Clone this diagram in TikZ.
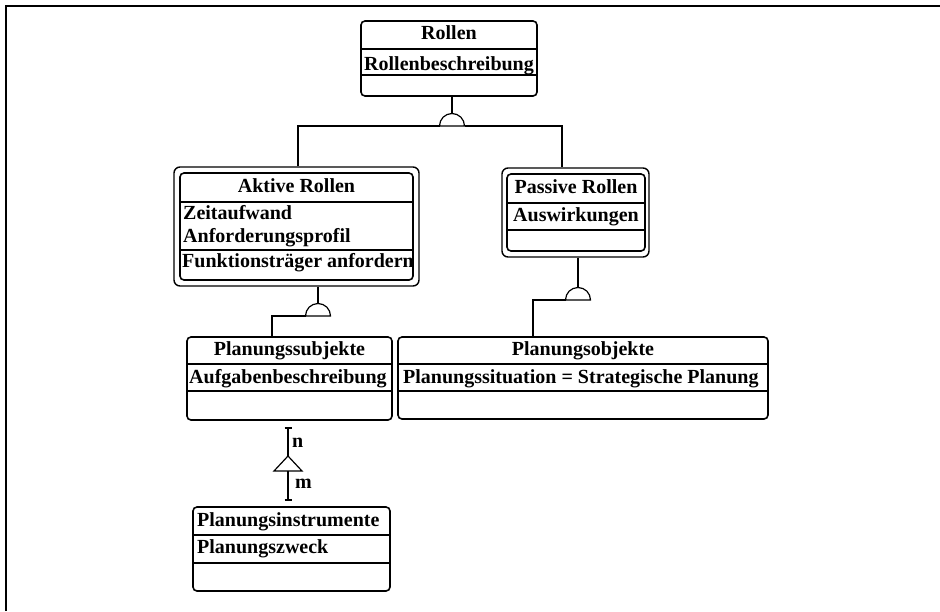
\documentclass[tikz,border=0pt]{standalone}
\usepackage{fontspec}
\setmainfont{Liberation Serif}
\usetikzlibrary{positioning}

\begin{document}
\begin{tikzpicture}[x=1pt, y=-1pt,
        cls/.style={draw=black, rounded corners=4pt, line width=1.6pt, inner sep=0pt},
        frame/.style={draw=black, rounded corners=6pt, line width=1.4pt, inner sep=0pt},
        hdr/.style={anchor=base, inner sep=0pt, font=\fontsize{20}{22}\selectfont\bfseries},
        attr/.style={hdr, anchor=base west},
        sep/.style={line width=1.1pt},
        link/.style={line width=1.2pt},
    ]
    \useasboundingbox (0,0) rectangle (940,611);
    % Rahmen (oben und links)
    \draw[line width=1.5pt] (6,611) -- (6,6) -- (940,6);

    % Rollen
    \node[cls, minimum width=176, minimum height=75] (rollen) at (449,58.5) {};
    \draw[sep] (rollen.west |- 0,49) -- (rollen.east |- 0,49);
    \draw[sep] (rollen.west |- 0,75) -- (rollen.east |- 0,75);
    \node[hdr] (rollenT) at (449,39.5) {Rollen};
    \node[attr] (rollenA) at (364,70) {Rollenbeschreibung};

    % Aktive Rollen (doppelter Rahmen)
    \node[frame, minimum width=245, minimum height=119] (aktiveO) at (296.5,226.5) {};
    \node[cls, minimum width=233, minimum height=107] (aktive) at (296.5,226.5) {};
    \draw[sep] (aktive.west |- 0,202) -- (aktive.east |- 0,202);
    \draw[sep] (aktive.west |- 0,250) -- (aktive.east |- 0,250);
    \node[hdr] (aktiveT) at (296.5,192) {Aktive Rollen};
    \node[attr] (aktiveA1) at (183,219) {Zeitaufwand};
    \node[attr] (aktiveA2) at (183,242) {Anforderungsprofil};
    \node[attr] (aktiveM) at (182,267) {Funktionsträger anfordern};

    % Passive Rollen (doppelter Rahmen)
    \node[frame, minimum width=147, minimum height=89] (passiveO) at (575.5,212.5) {};
    \node[cls, minimum width=138, minimum height=77] (passive) at (576,212.5) {};
    \draw[sep] (passive.west |- 0,203) -- (passive.east |- 0,203);
    \draw[sep] (passive.west |- 0,230) -- (passive.east |- 0,230);
    \node[hdr] (passiveT) at (576,193) {Passive Rollen};
    \node[hdr] (passiveA) at (576,221) {Auswirkungen};

    % Planungssubjekte
    \node[cls, minimum width=205, minimum height=83] (subj) at (289.5,378.5) {};
    \draw[sep] (subj.west |- 0,364) -- (subj.east |- 0,364);
    \draw[sep] (subj.west |- 0,391) -- (subj.east |- 0,391);
    \node[hdr] (subjT) at (289.5,355) {Planungssubjekte};
    \node[attr] (subjA) at (189,383) {Aufgabenbeschreibung};

    % Planungsobjekte
    \node[cls, minimum width=370, minimum height=82] (obj) at (583,378) {};
    \draw[sep] (obj.west |- 0,364) -- (obj.east |- 0,364);
    \draw[sep] (obj.west |- 0,391) -- (obj.east |- 0,391);
    \node[hdr] (objT) at (583,355) {Planungsobjekte};
    \node[attr] (objA) at (403,383) {Planungssituation = Strategische Planung};

    % Planungsinstrumente
    \node[cls, minimum width=197, minimum height=84] (instr) at (291.5,549) {};
    \draw[sep] (instr.west |- 0,535) -- (instr.east |- 0,535);
    \draw[sep] (instr.west |- 0,563) -- (instr.east |- 0,563);
    \node[attr] (instrT) at (197,526) {Planungsinstrumente};
    \node[attr] (instrA) at (197,553) {Planungszweck};

    % Generalisierung Rollen
    \coordinate (g1) at (452,126);
    \coordinate (g1t) at (452,113.5);
    \coordinate (j1l) at (298,126);
    \coordinate (j1r) at (562,126);
    \draw[link] (rollen.south -| g1) -- (g1t);
    \draw[link, fill=white] ([xshift=-12.5pt]g1) arc[start angle=180, end angle=360, radius=12.5] -- cycle;
    \draw[link] (aktiveO.north -| j1l) -- (j1l) -- ([xshift=-12.5pt]g1);
    \draw[link] ([xshift=12.5pt]g1) -- (j1r) -- (passiveO.north -| j1r);

    % Aktive Rollen -> Planungssubjekte
    \coordinate (g2) at (318,316);
    \coordinate (g2t) at (318,303.5);
    \coordinate (j2) at (272,316);
    \draw[link] (aktiveO.south -| g2) -- (g2t);
    \draw[link, fill=white] ([xshift=-12.5pt]g2) arc[start angle=180, end angle=360, radius=12.5] -- cycle;
    \draw[link] (subj.north -| j2) -- (j2) -- ([xshift=-12.5pt]g2);

    % Passive Rollen -> Planungsobjekte
    \coordinate (g3) at (578,300);
    \coordinate (g3t) at (578,287.5);
    \coordinate (j3) at (533,300);
    \draw[link] (passiveO.south -| g3) -- (g3t);
    \draw[link, fill=white] ([xshift=-12.5pt]g3) arc[start angle=180, end angle=360, radius=12.5] -- cycle;
    \draw[link] (obj.north -| j3) -- (j3) -- ([xshift=-12.5pt]g3);

    % Beziehung n:m
    \coordinate (cn) at (288,428);
    \coordinate (cm) at (288,500);
    \coordinate (tri) at (288,456);
    \coordinate (trib) at (288,471);
    \draw[link] ([xshift=-3.5pt]cn) -- ([xshift=3.5pt]cn);
    \draw[link] (cn) -- (tri);
    \draw[link] (tri) -- (274,471) -- (302,471) -- cycle;
    \draw[link] (trib) -- (cm);
    \draw[link] ([xshift=-3.5pt]cm) -- ([xshift=3.5pt]cm);
    \node[attr] (lblN) at (292,447) {n};
    \node[attr] (lblM) at (295,488) {m};
\end{tikzpicture}
\end{document}
